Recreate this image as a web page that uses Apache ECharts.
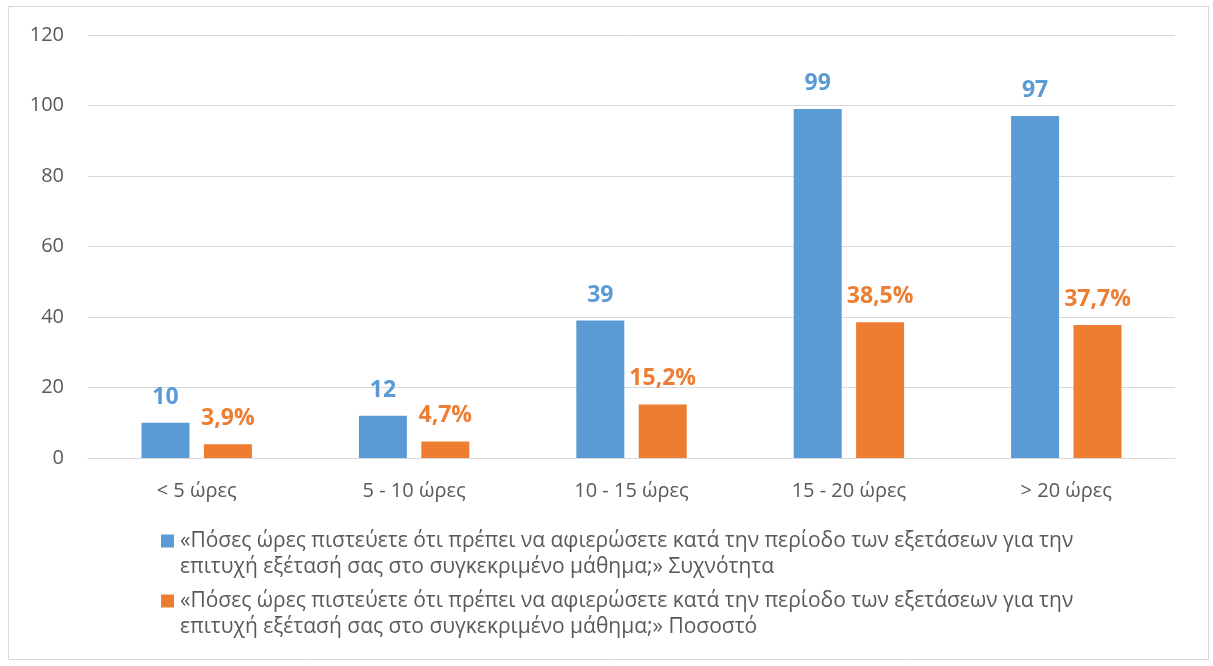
<!DOCTYPE html>
<html>
<head>
<meta charset="utf-8">
<script src="https://cdn.jsdelivr.net/npm/echarts@6/dist/echarts.min.js"></script>
<style>
html,body{margin:0;padding:0;background:#fff;}
#chart{width:1213px;height:666px;}
</style>
</head>
<body>
<div id="chart"></div>
<script>
// κατηγορίες και τιμές
var categories = ['< 5 ώρες', '5 - 10 ώρες', '10 - 15 ώρες', '15 - 20 ώρες', '> 20 ώρες'];
var freqValues = [10, 12, 39, 99, 97];
var pctValues = [3.9, 4.7, 15.2, 38.5, 37.7];
var yTicks = [0, 20, 40, 60, 80, 100, 120];

var question = '«Πόσες ώρες πιστεύετε ότι πρέπει να αφιερώσετε κατά την περίοδο των εξετάσεων για την';
var question2 = 'επιτυχή εξέτασή σας στο συγκεκριμένο μάθημα;»';
var nameFreq = question + ' ' + question2 + ' Συχνότητα';
var namePct = question + ' ' + question2 + ' Ποσοστό';

var blue = '#5B9BD5', orange = '#ED7D31';
var font = '"Open Sans", sans-serif';

var chart = echarts.init(document.getElementById('chart'));
var option = {
  animation: false,
  textStyle: { fontFamily: font },
  graphic: [{
    type: 'rect',
    shape: { x: 8.5, y: 6.5, width: 1200, height: 653 },
    style: { fill: 'none', stroke: '#d9d9d9', lineWidth: 1 },
    silent: true
  }],
  grid: { left: 88, right: 38, top: 35, bottom: 208 },
  legend: {
    orient: 'vertical',
    left: 156,
    top: 528,
    padding: 0,
    itemWidth: 0,
    itemHeight: 0,
    itemGap: 8,
    selectedMode: false,
    data: [nameFreq, namePct],
    formatter: function (name) {
      var sq = name === nameFreq ? '{a|}' : '{o|}';
      var tail = name === nameFreq ? ' Συχνότητα' : ' Ποσοστό';
      return sq + '{t|' + question + '}\n{ind|}{t|' + question2 + tail + '}';
    },
    textStyle: {
      color: '#595959',
      fontSize: 21,
      lineHeight: 26,
      rich: {
        a: { width: 13, height: 13, backgroundColor: blue },
        o: { width: 13, height: 13, backgroundColor: orange },
        ind: { width: 13 },
        t: { fontSize: 21, color: '#595959', fontFamily: font, padding: [0, 0, 0, 6], lineHeight: 26 }
      }
    }
  },
  xAxis: {
    type: 'category',
    data: categories,
    axisTick: { show: false },
    axisLine: { lineStyle: { color: '#d9d9d9' } },
    axisLabel: { color: '#595959', fontSize: 20, margin: 23 }
  },
  yAxis: {
    type: 'value',
    min: yTicks[0],
    max: yTicks[yTicks.length - 1],
    interval: 20,
    axisLine: { show: false },
    axisTick: { show: false },
    splitLine: { lineStyle: { color: '#d9d9d9' } },
    axisLabel: { color: '#595959', fontSize: 20, margin: 24 }
  },
  series: [{
    name: nameFreq,
    type: 'bar',
    data: freqValues,
    barWidth: 48,
    barGap: '30%',
    itemStyle: { color: blue },
    label: {
      show: true, position: 'top', distance: 14,
      color: blue, fontSize: 23, fontWeight: 'bold'
    }
  }, {
    name: namePct,
    type: 'bar',
    data: pctValues,
    barWidth: 48,
    itemStyle: { color: orange },
    label: {
      show: true, position: 'top', distance: 14,
      color: orange, fontSize: 23, fontWeight: 'bold',
      formatter: function (p) { return p.value.toFixed(1).replace('.', ',') + '%'; }
    }
  }]
};
chart.setOption(option);
</script>
</body>
</html>
